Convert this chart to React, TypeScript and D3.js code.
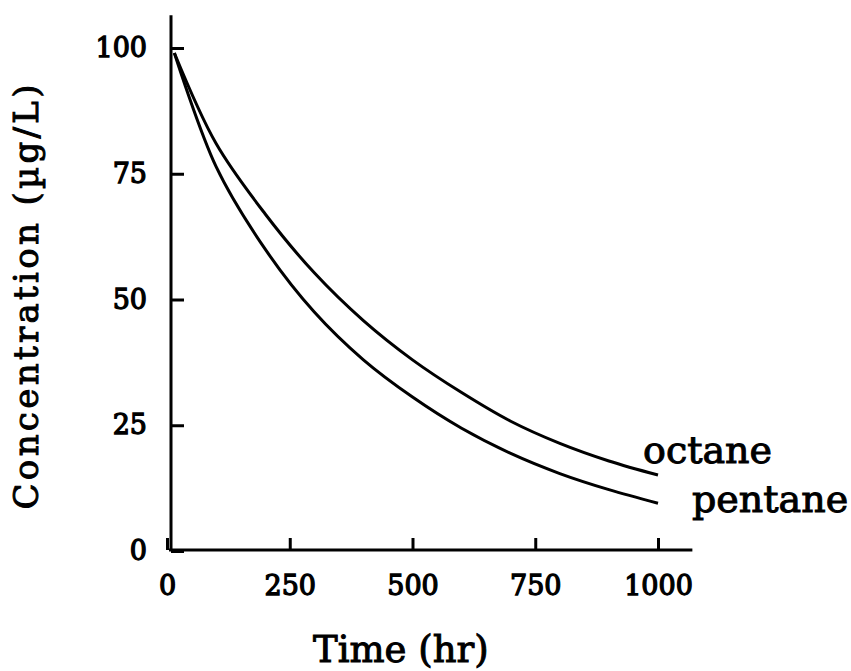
import React, { useEffect, useRef } from "react";
import * as d3 from "d3";

const timeHr = [15, 100, 200, 300, 400, 500, 600, 700, 800, 900, 1000];
const octane = [99, 81, 67, 55.3, 45.8, 38.0, 31.5, 25.8, 21.4, 17.9, 15.1];
const pentane = [99, 76.4, 60, 47.5, 38.0, 30.6, 24.4, 19.4, 15.4, 12.2, 9.5];
const xTicks = [0, 250, 500, 750, 1000];
const yTicks = [0, 25, 50, 75, 100];
const seriesNames = ["octane", "pentane"];

const W = 851;
const H = 671;
const FONT = "'DejaVu Serif', serif";

export default function App() {
  const ref = useRef<SVGSVGElement>(null);
  useEffect(() => {
    const svg = d3.select(ref.current);
    svg.selectAll("*").remove();
    const x = d3.scaleLinear().domain([0, 1000]).range([167, 658]);
    const y = d3.scaleLinear().domain([0, 100]).range([551, 48]);
    const axisX = 171;

    // Y axis
    const gy = svg.append("g").attr("transform", `translate(${axisX},0)`);
    gy.call(
      d3.axisLeft(y).tickValues(yTicks).tickSize(-13).tickPadding(24).tickFormat(d3.format("d"))
    );
    gy.select(".domain").remove();
    gy.selectAll(".tick line").attr("stroke", "#000").attr("stroke-width", 3);
    gy.selectAll(".tick text")
      .attr("font-family", FONT)
      .attr("font-size", 27)
      .attr("fill", "#000")
      .attr("stroke", "#000")
      .attr("stroke-width", 1.3);
    gy.append("line")
      .attr("x1", 0).attr("x2", 0)
      .attr("y1", y(106.5)).attr("y2", y(0) - 1)
      .attr("stroke", "#000").attr("stroke-width", 3);

    // X axis
    const gx = svg.append("g").attr("transform", `translate(0,${y(0) - 1})`);
    gx.call(
      d3.axisBottom(x).tickValues(xTicks).tickSize(-12).tickPadding(26).tickFormat(d3.format("d"))
    );
    gx.select(".domain").remove();
    gx.selectAll(".tick line").attr("stroke", "#000").attr("stroke-width", 3);
    gx.selectAll(".tick text")
      .attr("font-family", FONT)
      .attr("font-size", 27)
      .attr("fill", "#000")
      .attr("stroke", "#000")
      .attr("stroke-width", 1.3);
    gx.append("line")
      .attr("x1", x(0) + 2).attr("x2", x(1070))
      .attr("y1", 0).attr("y2", 0)
      .attr("stroke", "#000").attr("stroke-width", 3);

    // Curves
    const line = d3
      .line<[number, number]>()
      .x((d) => x(d[0]))
      .y((d) => y(d[1]))
      .curve(d3.curveCatmullRom.alpha(0.5));
    const series = [octane, pentane];
    series.forEach((vals) => {
      const pts: [number, number][] = timeHr.map((t, i) => [t, vals[i]]);
      svg.append("path")
        .attr("d", line(pts))
        .attr("fill", "none")
        .attr("stroke", "#000")
        .attr("stroke-width", 3);
    });

    // Series labels
    const labelPos = [
      { x: 643, y: 463 },
      { x: 692, y: 512 },
    ];
    seriesNames.forEach((name, i) => {
      svg.append("text")
        .attr("x", labelPos[i].x)
        .attr("y", labelPos[i].y)
        .attr("font-family", FONT)
        .attr("font-size", 38)
        .attr("fill", "#000")
        .attr("stroke", "#000")
        .attr("stroke-width", 1)
        .text(name);
    });

    // Axis titles
    svg.append("text")
      .attr("x", 313)
      .attr("y", 662)
      .attr("font-family", FONT)
      .attr("font-size", 37)
      .attr("fill", "#000")
      .attr("stroke", "#000")
      .attr("stroke-width", 1)
      .text("Time (hr)");

    svg.append("text")
      .attr("transform", `translate(38,297) rotate(-90)`)
      .attr("text-anchor", "middle")
      .attr("font-family", FONT)
      .attr("font-size", 34)
      .attr("textLength", 425)
      .attr("lengthAdjust", "spacing")
      .attr("fill", "#000")
      .attr("stroke", "#000")
      .attr("stroke-width", 1)
      .text("Concentration (µg/L)");
  }, []);

  return (
    <svg
      ref={ref}
      width={W}
      height={H}
      style={{ position: "absolute", left: 0, top: 0, background: "#fff" }}
    />
  );
}
